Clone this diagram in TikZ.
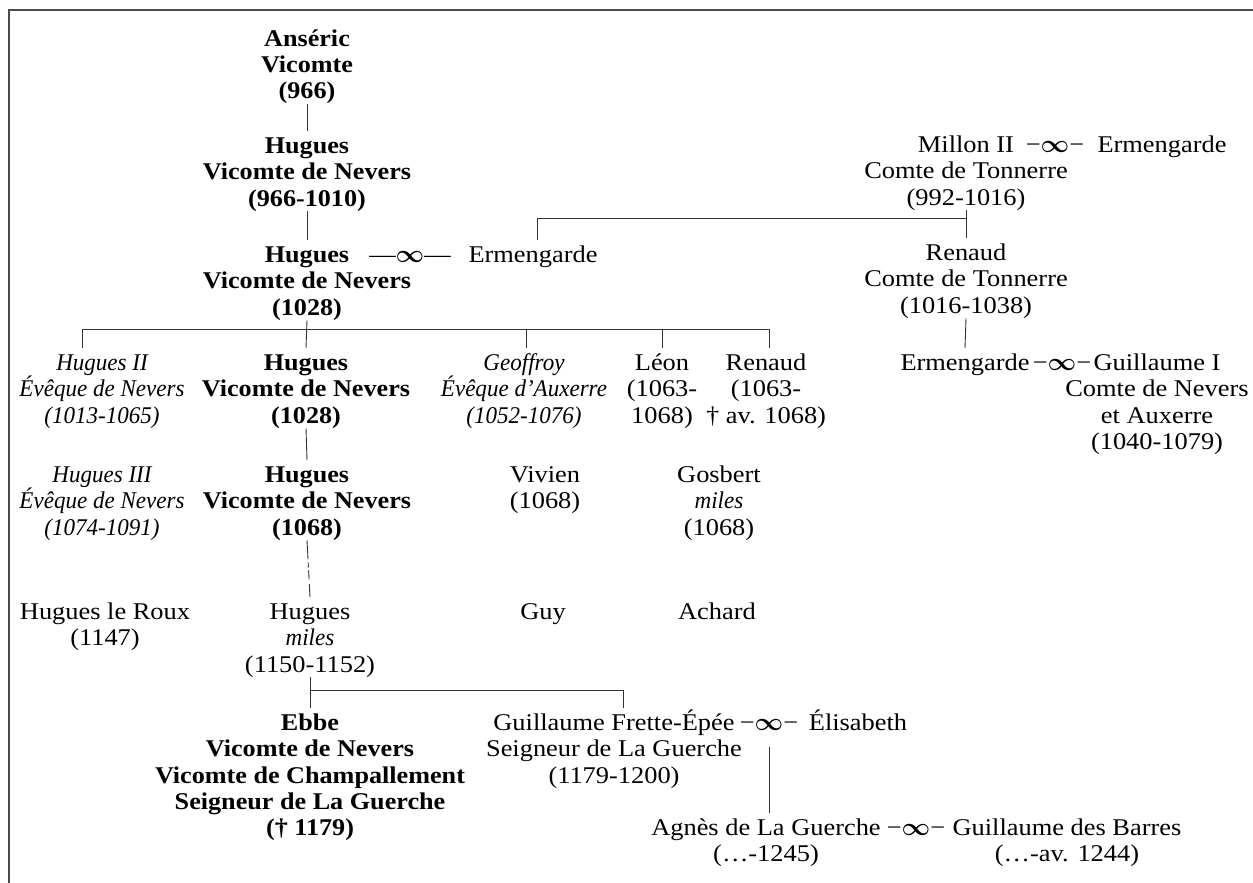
\documentclass[tikz,border=0pt]{standalone}
\usepackage{fontspec}
\setmainfont{Liberation Serif}[UprightFeatures={FakeStretch=1.1},BoldFeatures={FakeStretch=1.09},ItalicFeatures={FakeStretch=0.96}]
\newcommand{\mystrut}{\rule{0pt}{22pt}}
\newcommand{\marrsym}{{\fontsize{23}{23}\selectfont\boldmath$\infty$}}
\tikzset{
  person/.style={anchor=north, inner sep=0pt, align=center, text=black, font=\fontsize{24}{26.4}\selectfont},
  pb/.style={person, font=\fontsize{24}{26.4}\selectfont\bfseries},
  pi/.style={person, font=\fontsize{24}{26.4}\selectfont\itshape},
  marr/.style={anchor=base, inner sep=0pt, text=black, font=\fontsize{24}{26.4}\selectfont},
  link/.style={draw=black!80, line width=0.9pt},
  frame/.style={draw=black!70, line width=1.5pt},
}
\begin{document}
\begin{tikzpicture}[x=1pt,y=-1pt]
\useasboundingbox (0,0) rectangle (1253,883);
\draw[frame] (1253,10) -- (9,10) -- (9,883);

% main line
\node[pb] (anseric) at (307,24) {\mystrut Anséric\\Vicomte\\(966)};
\node[pb] (hugA) at (307,131) {\mystrut Hugues\\Vicomte de Nevers\\(966-1010)};
\node[pb] (hugB) at (307,240) {\mystrut Hugues\\Vicomte de Nevers\\(1028)};
\node[marr] (mar1) at (410,262) {—\marrsym—};
\node[person] (ermL) at (533,240) {\mystrut Ermengarde};

% Tonnerre
\node[person] (millon) at (966,130) {\mystrut Millon II\\Comte de Tonnerre\\(992-1016)};
\node[marr] (mar2) at (1055,152) {−\marrsym−};
\node[marr] (ermT) at (1162,152) {Ermengarde};
\node[person] (renaud) at (966,238) {\mystrut Renaud\\Comte de Tonnerre\\(1016-1038)};
\node[person] (ermR) at (965,348) {\mystrut Ermengarde};
\node[marr] (mar4) at (1062,370) {−\marrsym−};
\node[person] (guilI) at (1157,348) {\mystrut Guillaume I\\Comte de Nevers\\et Auxerre\\(1040-1079)};

% children of Hugues (1028)
\node[pi] (hugII) at (102,348) {\mystrut Hugues II\\Évêque de Nevers\\(1013-1065)};
\node[pb] (hugC) at (306,348) {\mystrut Hugues\\Vicomte de Nevers\\(1028)};
\node[pi] (geoffroy) at (524,348) {\mystrut Geoffroy\\Évêque d'Auxerre\\(1052-1076)};
\node[person] (leon) at (662,348) {\mystrut Léon\\(1063-\\1068)};
\node[person] (renaudB) at (766,348) {\mystrut Renaud\\(1063-\\† av. 1068)};

\node[pi] (hugIII) at (102,460) {\mystrut Hugues III\\Évêque de Nevers\\(1074-1091)};
\node[pb] (hugD) at (307,460) {\mystrut Hugues\\Vicomte de Nevers\\(1068)};
\node[person] (vivien) at (545,460) {\mystrut Vivien\\(1068)};
\node[person] (gosbert) at (719,460) {\mystrut Gosbert\\\textit{miles}\\(1068)};

\node[person] (roux) at (105,597) {\mystrut Hugues le Roux\\(1147)};
\node[person] (hugE) at (310,597) {\mystrut Hugues\\\textit{miles}\\(1150-1152)};
\node[person] (guy) at (543,597) {\mystrut Guy};
\node[person] (achard) at (717,597) {\mystrut Achard};

\node[pb] (ebbe) at (310,708) {\mystrut Ebbe\\Vicomte de Nevers\\Vicomte de Champallement\\Seigneur de La Guerche\\(† 1179)};
\node[person] (guilF) at (614,708) {\mystrut Guillaume Frette-Épée\\Seigneur de La Guerche\\(1179-1200)};
\node[marr] (mar3) at (769,730) {−\marrsym−};
\node[marr] (elis) at (858,730) {Élisabeth};

\node[person] (agnes) at (766,813) {\mystrut Agnès de La Guerche\\(…-1245)};
\node[marr] (mar5) at (916,835) {−\marrsym−};
\node[person] (barres) at (1067,813) {\mystrut Guillaume des Barres\\(…-av. 1244)};

% connectors
\coordinate (bar1) at (0,218);
\coordinate (bar) at (0,329);
\coordinate (bar2) at (0,690);
\draw[link] (anseric.south) -- (hugA.north);
\draw[link] (hugA.south) -- (hugB.north);
\draw[link] (hugB.south) -- (hugC.north);
\draw[link] ([xshift=-20pt]hugII.north) |- ([xshift=3pt]renaudB.north |- bar) -- ([xshift=3pt]renaudB.north);
\draw[link] ([xshift=2pt]geoffroy.north) -- ([xshift=2pt]geoffroy.north |- bar);
\draw[link] (leon.north) -- (leon.north |- bar);
\draw[link] (hugC.south) -- (hugD.north);
\draw[link, dash pattern=on 19pt off 3pt on 5pt off 3pt on 9pt off 5pt on 40pt] (hugD.south) -- (hugE.north);
\draw[link] ([xshift=4pt]ermL.north) |- (millon.south |- bar1);
\draw[link] (millon.south) -- (renaud.north);
\draw[link] (renaud.south) -- (ermR.north);
\draw[link] (hugE.south) -- (ebbe.north);
\draw[link] (hugE.south |- bar2) -| ([xshift=9pt]guilF.north);
\draw[link] ([yshift=-17pt]mar3.base) -- ([xshift=3pt]agnes.north);
\end{tikzpicture}
\end{document}
